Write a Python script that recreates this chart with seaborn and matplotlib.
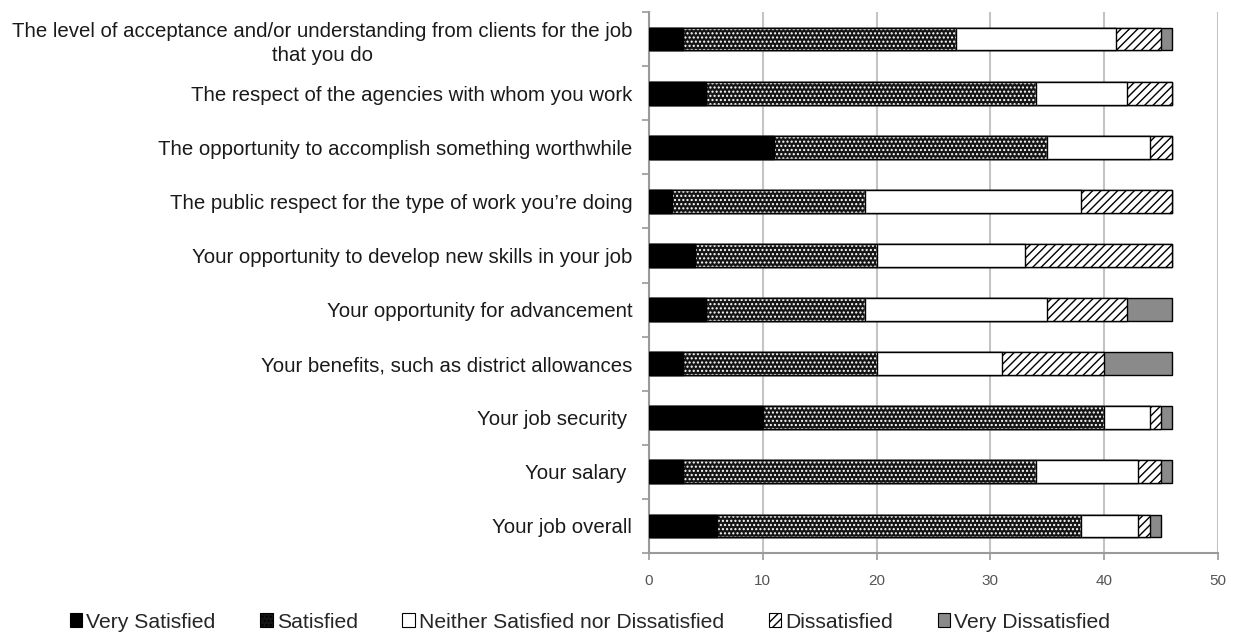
import matplotlib
matplotlib.use("Agg")
import matplotlib.pyplot as plt
from matplotlib.patches import Patch
import seaborn as sns
import pandas as pd
import numpy as np

categories = [
    "The level of acceptance and/or understanding from clients for the job\nthat you do",
    "The respect of the agencies with whom you work",
    "The opportunity to accomplish something worthwhile",
    "The public respect for the type of work you\u2019re doing",
    "Your opportunity to develop new skills in your job",
    "Your opportunity for advancement",
    "Your benefits, such as district allowances",
    "Your job security ",
    "Your salary ",
    "Your job overall",
]
series_names = ["Very Satisfied", "Satisfied", "Neither Satisfied nor Dissatisfied",
                "Dissatisfied", "Very Dissatisfied"]
very_satisfied = [3, 5, 11, 2, 4, 5, 3, 10, 3, 6]
satisfied = [24, 29, 24, 17, 16, 14, 17, 30, 31, 32]
neither = [14, 8, 9, 19, 13, 16, 11, 4, 9, 5]
dissatisfied = [4, 4, 2, 8, 13, 7, 9, 1, 2, 1]
very_dissatisfied = [1, 0, 0, 0, 0, 4, 6, 1, 1, 1]
xticks = [0, 10, 20, 30, 40, 50]

sns.set_theme(style="white")
plt.rcParams['font.family'] = ['Liberation Sans', 'DejaVu Sans']
plt.rcParams['hatch.linewidth'] = 1.0

series = [very_satisfied, satisfied, neither, dissatisfied, very_dissatisfied]
cum = np.cumsum(np.array(series), axis=0)
df = pd.DataFrame({"category": categories})
for i, name in enumerate(series_names):
    df[name] = cum[i]

fig = plt.figure(figsize=(12.39, 6.37), dpi=100)
ax = fig.add_axes([649 / 1239, (637 - 553) / 637, 569 / 1239, 541 / 637])

bw = 0.42
styles = {
    "Very Satisfied": dict(fc="black", ec="black", hatch=None),
    "Satisfied": dict(fc="#151515", ec="white", hatch="...."),
    "Neither Satisfied nor Dissatisfied": dict(fc="white", ec="black", hatch=None),
    "Dissatisfied": dict(fc="white", ec="black", hatch="////"),
    "Very Dissatisfied": dict(fc="#8a8a8a", ec="black", hatch=None),
}

def layer(col, fc, ec, hatch, lw=1.0, fill=True):
    n0 = len(ax.patches)
    if fill:
        sns.barplot(data=df, x=col, y="category", orient="h", color=fc,
                    saturation=1, width=bw, edgecolor=ec, linewidth=lw, ax=ax)
    else:
        sns.barplot(data=df, x=col, y="category", orient="h", color=ec,
                    saturation=1, width=bw, fill=False, linewidth=lw, ax=ax)
    for p in ax.patches[n0:]:
        if hatch:
            p.set_hatch(hatch)
        if fill:
            p.set_facecolor(fc)
            p.set_edgecolor(ec)
        p.set_zorder(3)

for name in reversed(series_names):
    s = styles[name]
    layer(name, s["fc"], s["ec"], s["hatch"])
    if name == "Satisfied":
        layer(name, None, "black", None, fill=False)

ax.set_xlim(0, 50)
ax.set_ylim(9.5, -0.5)
ax.set_xticks(xticks)
ax.set_xticklabels([str(t) for t in xticks])
ax.set_xlabel("")
ax.set_ylabel("")
ax.grid(axis="x", color="#c4c4c4", linewidth=1.5, zorder=0)
ax.set_axisbelow(True)
for side in ["top", "right"]:
    ax.spines[side].set_visible(False)
for side in ["left", "bottom"]:
    ax.spines[side].set_color("#9a9a9a")
    ax.spines[side].set_linewidth(1.5)

ax.set_yticks(np.arange(-0.5, 10, 1), minor=True)
ax.tick_params(axis="y", which="major", length=0, pad=12, labelsize=14.7, labelcolor="#1a1a1a")
ax.tick_params(axis="y", which="minor", length=5, width=1.2, color="#9a9a9a", direction="out", left=True)
ax.tick_params(axis="x", which="major", length=5, width=1.2, color="#9a9a9a", direction="out",
               bottom=True, pad=10, labelsize=11, labelcolor="#555555")
for lab in ax.get_yticklabels():
    lab.set_multialignment("center")
    lab.set_linespacing(1.35)

handles = [Patch(facecolor=styles[n]["fc"], edgecolor=styles[n]["ec"] if n != "Satisfied" else "black",
                 hatch=styles[n]["hatch"], linewidth=0.8, label=n) for n in series_names]
fig.legend(handles=handles, loc="center", bbox_to_anchor=(590 / 1239, 1 - 622 / 637), ncol=5,
           frameon=False, fontsize=15.2, handlelength=0.6, handleheight=0.6, handletextpad=0.2,
           columnspacing=2.1, borderaxespad=0)

fig.savefig("out.png", dpi=100)
